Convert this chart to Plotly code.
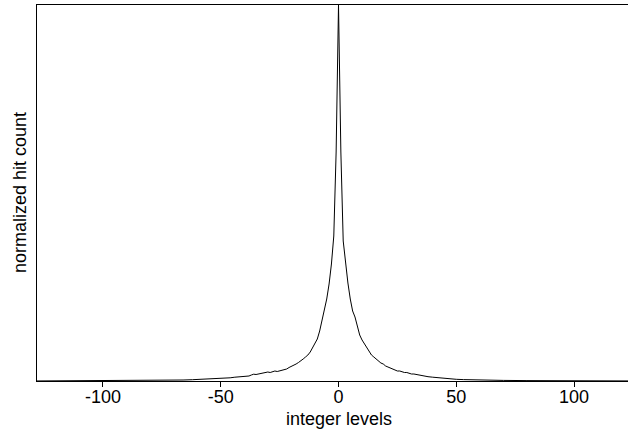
import plotly.graph_objects as go

# integer levels and normalized hit counts (peak = 1)
levels_left = [-128, -120, -110, -100, -90, -80, -75, -70, -66, -62, -58, -55, -52, -50,
               -48, -46, -44, -42, -40, -39, -38, -37, -36, -35, -34, -33, -32, -31, -30,
               -29, -28, -27, -26, -25, -24, -23, -22, -21, -20, -19, -18, -17, -16, -15,
               -14, -13, -12, -11, -10, -9, -8, -7, -6, -5, -4, -3, -2, -1]
counts_left_px = [0.05, 0.1, 0.15, 0.25, 0.35, 0.5, 0.6, 0.8, 1.0, 1.3, 1.6, 2.0, 2.2, 2.7,
                  3.0, 3.2, 3.8, 4.2, 4.5, 5.0, 5.0, 6.0, 6.8, 6.5, 7.0, 7.5, 8.0, 8.0, 9.0,
                  8.5, 9.0, 10.0, 9.5, 10.0, 10.5, 11.5, 12.0, 13.5, 14.5, 16.0, 17.0, 18.5, 20.0, 22.0,
                  24.0, 26.0, 29.0, 33.0, 37.0, 42.0, 50.0, 60.0, 71.0, 82.0, 97.0, 117.0, 145.0, 229.0]
level_zero = [0]
count_zero_px = [376.0]
levels_right = [1, 2, 3, 4, 5, 6, 7, 8, 9, 10, 11, 12, 13, 14, 15, 16, 17, 18, 19, 20,
                21, 22, 23, 24, 25, 26, 27, 28, 29, 30, 31, 32, 33, 34, 35, 36, 37, 38,
                40, 42, 44, 46, 48, 50, 53, 56, 60, 65, 70, 80, 90, 100, 110, 120, 127]
counts_right_px = [229.0, 140.0, 118.0, 98.0, 82.0, 70.0, 64.0, 55.0, 46.0, 41.0, 37.0, 33.0,
                   29.0, 26.0, 24.0, 22.0, 20.0, 18.0, 17.0, 15.0, 14.0, 13.0, 12.5, 11.0,
                   10.0, 10.0, 9.0, 8.5, 8.5, 7.5, 7.0, 7.0, 6.5, 6.0, 5.5, 5.0, 4.5, 4.3,
                   3.8, 3.3, 2.8, 2.5, 2.0, 1.7, 1.4, 1.2, 1.0, 0.8, 0.6, 0.4, 0.3, 0.2, 0.15, 0.1, 0.05]

levels = levels_left + level_zero + levels_right
counts = [v / 376.0 for v in counts_left_px + count_zero_px + counts_right_px]

tick_vals = [-100, -50, 0, 50, 100]
tick_text = ["-100", "-50", "0", "50", "100"]

fig = go.Figure()
fig.add_trace(go.Scatter(x=levels, y=counts, mode="lines",
                         line=dict(color="black", width=1), showlegend=False))

font_family = "Liberation Sans, Arial, sans-serif"
fig.update_layout(
    width=680, height=432,
    margin=dict(l=37, r=40, t=5, b=51, autoexpand=False),
    paper_bgcolor="white", plot_bgcolor="white",
    font=dict(family=font_family, size=18, color="black"),
    xaxis=dict(range=[-128, 128], tickvals=tick_vals, ticktext=tick_text,
               ticks="outside", ticklen=5, tickcolor="black", tickwidth=1,
               showline=True, linecolor="black", linewidth=1, mirror=True,
               showgrid=False, zeroline=False, automargin=False,
               ticklabelstandoff=-6, tickfont=dict(size=18)),
    yaxis=dict(range=[0, 1.0], showticklabels=False, ticks="",
               showline=True, linecolor="black", linewidth=1,
               showgrid=False, zeroline=False, automargin=False),
    annotations=[
        dict(text="integer levels", xref="paper", yref="paper", x=0.5, y=0,
             xanchor="center", yanchor="middle", yshift=-38, showarrow=False,
             font=dict(size=18)),
        dict(text="normalized hit count", xref="paper", yref="paper", x=0, y=0.5,
             xanchor="center", yanchor="middle", xshift=-17, textangle=-90,
             showarrow=False, font=dict(size=18)),
    ],
)

fig.write_html(
    "out.html",
    config={"displayModeBar": False},
    post_script=("document.body.style.margin='0';document.body.style.overflow='hidden';"
                 "document.documentElement.style.overflow='hidden';"),
)
